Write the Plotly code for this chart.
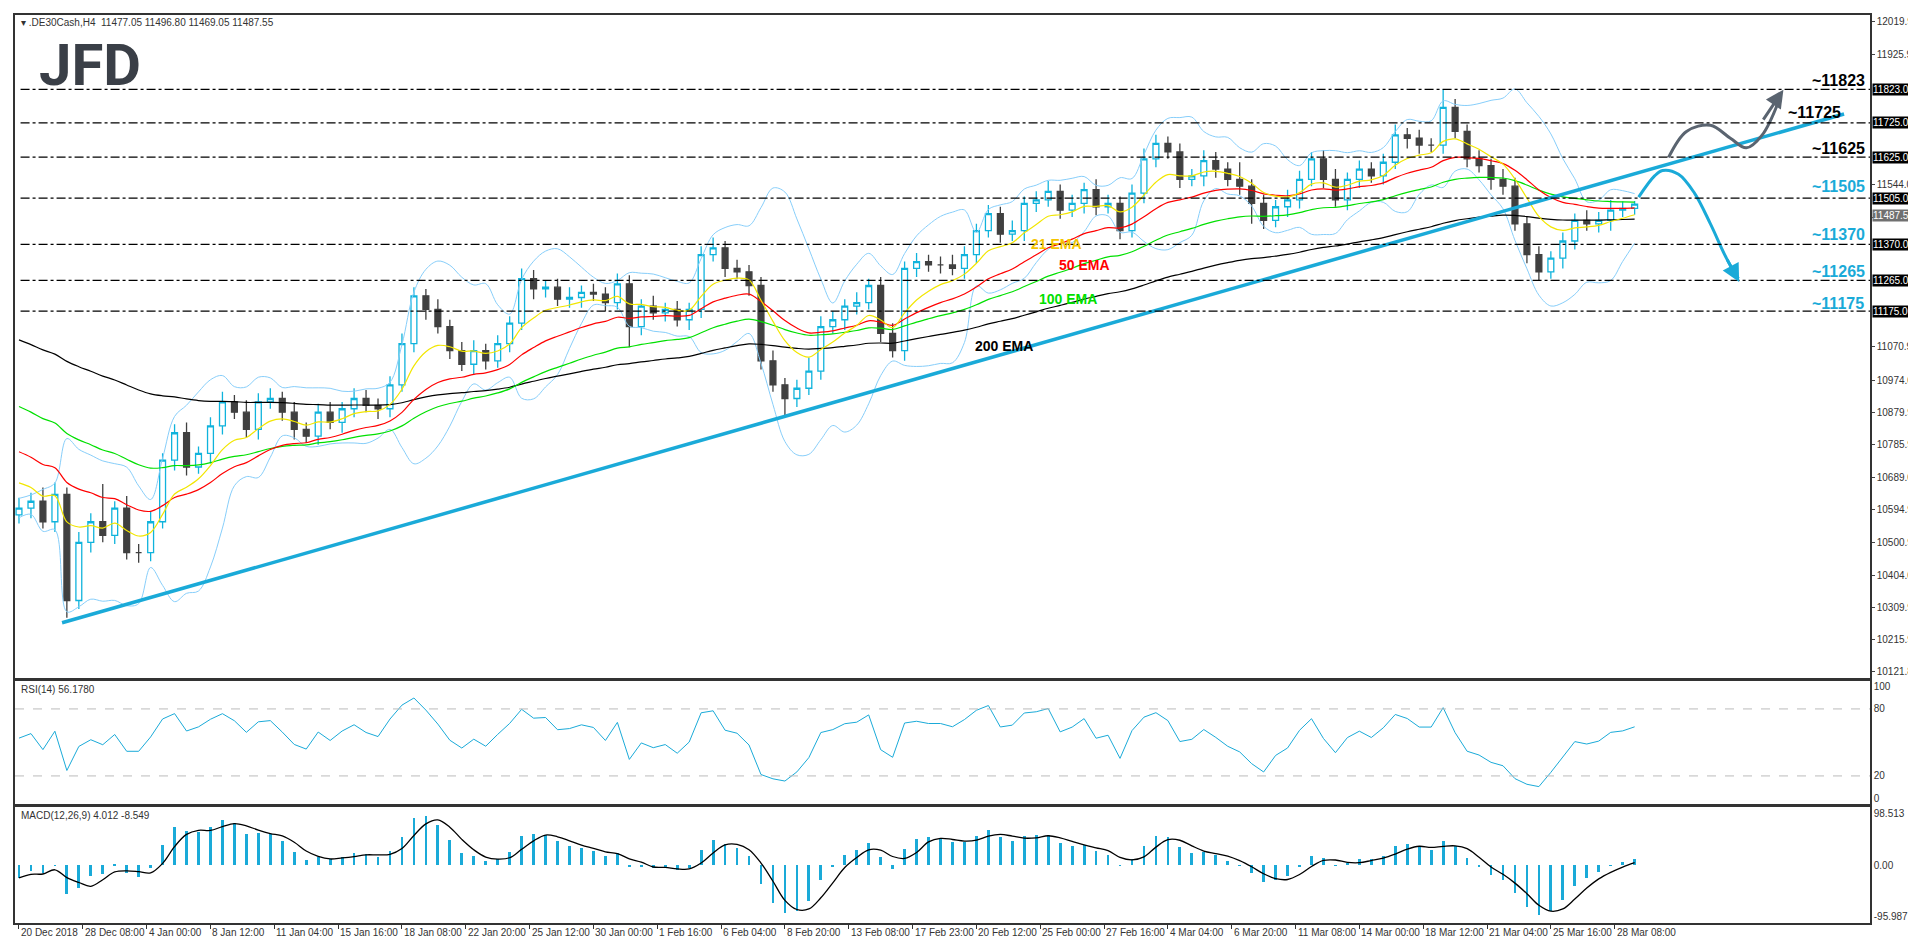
import plotly.graph_objects as go
import pandas as pd
import numpy as np

# ---------------- data ----------------
closes = [10600, 10620, 10560, 10640, 10330, 10500, 10560, 10520, 10600, 10470,
          10470, 10560, 10740, 10820, 10720, 10760, 10840, 10910, 10880, 10830,
          10910, 10920, 10880, 10830, 10810, 10880, 10850, 10890, 10920, 10900,
          10890, 10960, 11080, 11220, 11180, 11130, 11060, 11020, 11060, 11030,
          11080, 11140, 11270, 11240, 11245, 11210, 11215, 11230, 11225, 11200,
          11255, 11130, 11190, 11170, 11180, 11150, 11180, 11340, 11360, 11300,
          11290, 11250, 11030, 10960, 10920, 10950, 11000, 11130, 11150, 11190,
          11200, 11250, 11110, 11060, 11300, 11320, 11310, 11310, 11300, 11340,
          11410, 11460, 11400, 11410, 11490, 11500, 11525, 11470, 11490, 11530,
          11480, 11490, 11410, 11520, 11620, 11665, 11640, 11560, 11570, 11615,
          11590, 11560, 11540, 11490, 11440, 11480, 11500, 11560, 11620, 11560,
          11500, 11560, 11590, 11570, 11610, 11690, 11680, 11660, 11660, 11770,
          11700, 11620, 11600, 11560, 11540, 11430, 11340, 11290, 11330, 11380,
          11440, 11430, 11440, 11470, 11475, 11487.55]
first_open = 10580
up_wick = [30, 25, 40, 35, 20, 30, 25, 110, 20, 35, 25, 30, 20, 25, 30, 20, 25, 30, 20, 35,
           25, 30, 20, 30, 20, 25, 30, 20, 30, 25, 20, 25, 30, 25, 20, 30, 20, 25, 30, 20,
           25, 20, 30, 25, 20, 25, 30, 20, 25, 20, 30, 25, 20, 30, 20, 25, 20, 25, 30, 20,
           25, 20, 25, 30, 20, 25, 40, 30, 25, 20, 30, 20, 25, 30, 20, 25, 20, 25, 30, 25,
           20, 25, 20, 30, 20, 25, 30, 20, 25, 20, 30, 25, 20, 25, 30, 25, 20, 25, 20, 30,
           25, 20, 50, 20, 25, 20, 30, 25, 20, 25, 30, 20, 25, 20, 25, 30, 20, 25, 20, 53,
           25, 20, 25, 20, 30, 25, 20, 25, 20, 25, 20, 30, 25, 30, 20, 9]
dn_wick = [25, 30, 20, 30, 50, 25, 30, 20, 25, 20, 30, 25, 20, 30, 25, 20, 30, 25, 20, 25,
           30, 20, 25, 30, 20, 25, 20, 30, 25, 20, 30, 25, 20, 25, 30, 20, 25, 20, 30, 25,
           20, 25, 20, 30, 25, 20, 25, 30, 20, 25, 20, 60, 25, 20, 25, 20, 30, 25, 20, 25,
           20, 30, 25, 20, 50, 25, 20, 25, 20, 30, 25, 20, 25, 20, 30, 25, 20, 25, 20, 30,
           25, 20, 25, 20, 30, 25, 20, 25, 20, 30, 25, 20, 25, 20, 30, 25, 20, 25, 20, 30,
           25, 20, 25, 60, 25, 20, 30, 25, 20, 25, 20, 30, 25, 20, 25, 20, 30, 25, 20, 25,
           20, 25, 20, 30, 25, 20, 25, 25, 20, 30, 25, 20, 25, 30, 20, 18]
bar_step = 3  # H4 bars per drawn candle

ema_seeds = {21: 10698, 50: 10785, 100: 10915, 200: 11106}
ema_spans = {21: 7, 50: 17, 100: 33, 200: 67}
ema_colors = {21: "#f2e600", 50: "#ff0000", 100: "#00e000", 200: "#000000"}
rsi_seed_avg = 30.0

levels = [11823, 11725, 11625, 11505, 11370, 11265, 11175]
level_text_colors = ["#000000", "#000000", "#000000", "#1aaad8", "#1aaad8", "#1aaad8", "#1aaad8"]
level_label_y = [11850, 11755, 11650, 11540, 11398, 11292, 11197]
level_label_x = [456, 450, 456, 456, 456, 456, 456]

trend_x = [10.8, 457.5]
trend_y = [10265, 11751]
up_path_x = [413.5, 418, 424, 429, 433, 437, 441.5]
up_path_y = [11624, 11700, 11718, 11680, 11652, 11690, 11800]
dn_path_x = [406, 410, 412, 416, 420, 424, 428, 431]
dn_path_y = [11508, 11570, 11586, 11575, 11520, 11430, 11330, 11270]

price_ticks = [12019.95, 11925.90, 11544.00, 11449.95, 11070.90, 10974.00, 10879.95,
               10785.90, 10689.00, 10594.95, 10500.90, 10404.00, 10309.95, 10215.90, 10121.85]
date_labels = ["20 Dec 2018", "28 Dec 08:00", "4 Jan 00:00", "8 Jan 12:00", "11 Jan 04:00",
               "15 Jan 16:00", "18 Jan 08:00", "22 Jan 20:00", "25 Jan 12:00", "30 Jan 00:00",
               "1 Feb 16:00", "6 Feb 04:00", "8 Feb 20:00", "13 Feb 08:00", "17 Feb 23:00",
               "20 Feb 12:00", "25 Feb 00:00", "27 Feb 16:00", "4 Mar 04:00", "6 Mar 20:00",
               "11 Mar 08:00", "14 Mar 00:00", "18 Mar 12:00", "21 Mar 04:00", "25 Mar 16:00",
               "28 Mar 08:00"]
date_step = 16

# ---------------- derived ----------------
c = np.array(closes, dtype=float)
o = np.concatenate([[first_open], c[:-1]])
h = np.maximum(o, c) + np.array(up_wick)
l = np.minimum(o, c) - np.array(dn_wick)
x = np.arange(len(c)) * bar_step

def ema(vals, span, seed):
    a = 2.0 / (span + 1)
    out, prev = [], seed
    for v in vals:
        prev = prev + a * (v - prev)
        out.append(prev)
    return np.array(out)

s = pd.Series(c)
mid = s.rolling(7, min_periods=1).mean()
sd = s.rolling(7, min_periods=2).std().bfill()
bb_up, bb_dn = mid + 2 * sd, mid - 2 * sd

diffs = np.diff(np.concatenate([[first_open], c]))
ag, al, rsi = rsi_seed_avg, rsi_seed_avg, []
for dv in diffs:
    ag = (ag * 4 + max(dv, 0)) / 5
    al = (al * 4 + max(-dv, 0)) / 5
    rsi.append(100 - 100 / (1 + ag / max(al, 1e-9)))

macd = ema(c, 4, c[0] - 40) - ema(c, 9, c[0])
signal = pd.Series(macd).rolling(3, min_periods=1).mean()

# ---------------- figure ----------------
fig = go.Figure()
for band in (bb_up, bb_dn):
    fig.add_trace(go.Scatter(x=x, y=band, mode="lines", line=dict(color="#87cefa", width=1, shape="spline"),
                             hoverinfo="skip", showlegend=False))
for p in (200, 100, 50, 21):
    fig.add_trace(go.Scatter(x=x, y=ema(c, ema_spans[p], ema_seeds[p]), mode="lines",
                             line=dict(color=ema_colors[p], width=1.2, shape="spline"), showlegend=False))
fig.add_trace(go.Candlestick(x=x, open=o, high=h, low=l, close=c,
                             increasing=dict(line=dict(color="#0fb3dc", width=1.3), fillcolor="#ffffff"),
                             decreasing=dict(line=dict(color="#404040", width=1.3), fillcolor="#404040"),
                             whiskerwidth=0, showlegend=False))
fig.add_trace(go.Scatter(x=trend_x, y=trend_y, mode="lines", line=dict(color="#1aaad8", width=3.5), showlegend=False))
fig.add_trace(go.Scatter(x=up_path_x, y=up_path_y, mode="lines", line=dict(color="#5a6470", width=3, shape="spline"), showlegend=False))
fig.add_trace(go.Scatter(x=dn_path_x, y=dn_path_y, mode="lines", line=dict(color="#1aaad8", width=3, shape="spline"), showlegend=False))
fig.add_annotation(x=up_path_x[-1] + 0.8, y=up_path_y[-1] + 22, ax=up_path_x[-2], ay=up_path_y[-2] + 40,
                   xref="x", yref="y", axref="x", ayref="y", showarrow=True, arrowhead=2, arrowsize=1.2,
                   arrowwidth=3, arrowcolor="#5a6470", text="")
fig.add_annotation(x=dn_path_x[-1] + 0.2, y=dn_path_y[-1] - 10, ax=dn_path_x[-2], ay=dn_path_y[-2],
                   xref="x", yref="y", axref="x", ayref="y", showarrow=True, arrowhead=2, arrowsize=1.2,
                   arrowwidth=3, arrowcolor="#1aaad8", text="")

fig.add_trace(go.Scatter(x=x, y=rsi, mode="lines", line=dict(color="#1aaad8", width=1), xaxis="x2", yaxis="y2", showlegend=False))
fig.add_trace(go.Bar(x=x, y=macd, marker=dict(color="#1aaad8", line=dict(width=0)), width=0.7, xaxis="x3", yaxis="y3", showlegend=False))
fig.add_trace(go.Scatter(x=x, y=signal, mode="lines", line=dict(color="#000000", width=1.3, shape="spline"), xaxis="x3", yaxis="y3", showlegend=False))

tagfont = dict(color="#ffffff", size=10, family="Liberation Sans")
for lv in levels:
    fig.add_shape(type="line", xref="x domain", yref="y", x0=0.003, x1=1, y0=lv, y1=lv,
                  line=dict(color="#000000", width=1.2, dash="dashdot"))
fig.add_annotation(xref="paper", yref="y", x=1.0, y=11487.55, yshift=-11, text="11487.55", showarrow=False,
                   xanchor="left", bgcolor="#707070", font=tagfont, borderpad=0, xshift=2)
for lv in levels:
    fig.add_annotation(xref="paper", yref="y", x=1.0, y=lv, text="%.2f" % lv, showarrow=False,
                       xanchor="left", bgcolor="#000000", font=tagfont, borderpad=0, xshift=2)
for lv, col, ly, lx in zip(levels, level_text_colors, level_label_y, level_label_x):
    fig.add_annotation(x=lx, y=ly, text="<b>~%d</b>" % lv, showarrow=False, xanchor="center",
                       font=dict(color=col, size=16, family="Liberation Sans"))

for txt, col, xx, yy in [("21 EMA", "#f5c400", 260, 11370), ("50 EMA", "#ff0000", 267, 11310),
                         ("100 EMA", "#00e000", 263, 11212), ("200 EMA", "#000000", 247, 11072)]:
    fig.add_annotation(x=xx, y=yy, text="<b>%s</b>" % txt, showarrow=False, font=dict(color=col, size=14, family="Liberation Sans"))

for i, lab in enumerate(date_labels):
    fig.add_annotation(x=i * date_step, y=0, xref="x3", yref="paper", yanchor="top", xanchor="left", yshift=-2, xshift=0,
                       text=lab, showarrow=False, font=dict(size=10, color="#333333", family="Liberation Sans"))

smallfont = dict(size=10, color="#333333", family="Liberation Sans")
fig.add_annotation(xref="paper", yref="paper", x=0.0, y=1.0, xanchor="left", yanchor="top", xshift=4,
                   text="▾ .DE30Cash,H4  11477.05 11496.80 11469.05 11487.55", showarrow=False, font=smallfont)
fig.add_annotation(xref="paper", yref="paper", x=0.012, y=0.985, xanchor="left", yanchor="top",
                   text="<b>JFD</b>", showarrow=False, font=dict(size=58, color="#3a3f47", family="Roboto"))
fig.add_annotation(xref="paper", yref="paper", x=0.0, y=0.265, xanchor="left", yanchor="top", xshift=4,
                   text="RSI(14) 56.1780", showarrow=False, font=smallfont)
fig.add_annotation(xref="paper", yref="paper", x=0.0, y=0.127, xanchor="left", yanchor="top", xshift=4,
                   text="MACD(12,26,9) 4.012 -8.549", showarrow=False, font=smallfont)
for lv in (80, 20):
    fig.add_shape(type="line", xref="x2 domain", yref="y2", x0=0, x1=1, y0=lv, y1=lv,
                  line=dict(color="#bbbbbb", width=1, dash="dash"))

xr = [-1, 464]
ax_common = dict(range=xr, showgrid=False, zeroline=False, showline=True, mirror=True, linecolor="#333333",
                 linewidth=1.5, fixedrange=True)
tickfont = dict(size=10, color="#333", family="Liberation Sans")
fig.update_layout(
    width=1916, height=936, paper_bgcolor="#ffffff", plot_bgcolor="#ffffff",
    margin=dict(l=5, r=51, t=5, b=21), bargap=0,
    xaxis=dict(ax_common, domain=[0, 1], anchor="y", showticklabels=False, rangeslider=dict(visible=False)),
    xaxis2=dict(ax_common, domain=[0, 1], anchor="y2", showticklabels=False, matches="x"),
    xaxis3=dict(ax_common, domain=[0, 1], anchor="y3", showticklabels=False, matches="x",
                tickvals=[i * date_step for i in range(len(date_labels))], ticks="outside", ticklen=4, tickcolor="#333"),
    yaxis=dict(domain=[0.2703, 1], range=[10105, 12040], side="right", tickvals=price_ticks,
               ticktext=["%.2f" % t for t in price_ticks], showgrid=False, zeroline=False, showline=True,
               mirror=True, linecolor="#333333", linewidth=1.5, ticks="outside", ticklen=3, tickfont=tickfont),
    yaxis2=dict(domain=[0.1297, 0.267], range=[-6.25, 105.4], side="right", tickvals=[0, 20, 80, 100],
                showgrid=False, zeroline=False, showline=True, mirror=True, linecolor="#333333", linewidth=1.5,
                tickfont=tickfont),
    yaxis3=dict(domain=[0, 0.1286], range=[-109.2, 111.7], side="right", tickvals=[-95.987, 0, 98.513],
                ticktext=["-95.987", "0.00", "98.513"], showgrid=False, zeroline=False, showline=True, mirror=True,
                linecolor="#333333", linewidth=1.5, tickfont=tickfont),
)
fig.write_html("out.html")
